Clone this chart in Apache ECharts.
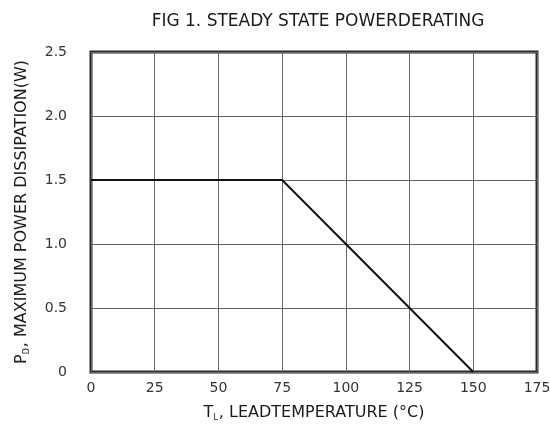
<!DOCTYPE html>
<html>
<head>
<meta charset="utf-8">
<script src="https://cdn.jsdelivr.net/npm/echarts@6/dist/echarts.min.js"></script>
<style>
html,body{margin:0;padding:0;background:#fff;}
#c{width:550px;height:428px;}
</style>
</head>
<body>
<div id="c"></div>
<script>
var xValues = [0, 75, 150];
var powerValues = [1.5, 1.5, 0];
var xTicks = [0, 25, 50, 75, 100, 125, 150, 175];
var yTicks = [0, 0.5, 1.0, 1.5, 2.0, 2.5];

var chart = echarts.init(document.getElementById('c'));
var font = 'DejaVu Sans, sans-serif';
chart.setOption({
  animation: false,
  backgroundColor: '#fff',
  title: {
    text: 'FIG 1. STEADY STATE POWERDERATING',
    left: 313, top: 8, textAlign: 'center',
    textStyle: {fontFamily: font, fontSize: 17, fontWeight: 'normal', color: '#1a1a1a'}
  },
  grid: {
    left: 91, right: 13, top: 52, bottom: 56,
    outerBoundsMode: 'none',
    show: true, borderColor: '#2a2a2a', borderWidth: 3, backgroundColor: 'transparent'
  },
  xAxis: {
    type: 'value', min: xTicks[0], max: xTicks[xTicks.length-1], interval: 25,
    axisLine: {show: false}, axisTick: {show: false},
    splitLine: {show: true, lineStyle: {color: '#666', width: 1}},
    axisLabel: {fontFamily: font, fontSize: 14, color: '#333', margin: 9},
    name: '{n|T}{s|L}{n|, LEADTEMPERATURE (°C)}',
    nameLocation: 'middle', nameGap: 32,
    nameTextStyle: {
      rich: {
        n: {fontFamily: font, fontSize: 16, color: '#1a1a1a', lineHeight: 18},
        s: {fontFamily: font, fontSize: 8, color: '#1a1a1a', lineHeight: 18, verticalAlign: 'bottom', padding: [6,1,0,0]}
      }
    }
  },
  yAxis: {
    type: 'value', min: yTicks[0], max: yTicks[yTicks.length-1], interval: 0.5,
    axisLine: {show: false}, axisTick: {show: false},
    splitLine: {show: true, lineStyle: {color: '#666', width: 1}},
    axisLabel: {fontFamily: font, fontSize: 14, color: '#333', margin: 24,
      formatter: function(v){ return v === 0 ? '0' : v.toFixed(1); }},
    name: '{n|P}{s|D}{n|, MAXIMUM POWER DISSIPATION(W)}',
    nameLocation: 'middle', nameRotate: 90, nameGap: 60,
    nameTextStyle: {
      rich: {
        n: {fontFamily: font, fontSize: 16, color: '#1a1a1a', lineHeight: 18},
        s: {fontFamily: font, fontSize: 8, color: '#1a1a1a', lineHeight: 18, verticalAlign: 'bottom', padding: [6,1,0,0]}
      }
    }
  },
  series: [{
    type: 'line',
    data: xValues.map(function(x, i){ return [x, powerValues[i]]; }),
    symbol: 'none',
    lineStyle: {color: '#111', width: 2}
  }]
});
</script>
</body>
</html>
